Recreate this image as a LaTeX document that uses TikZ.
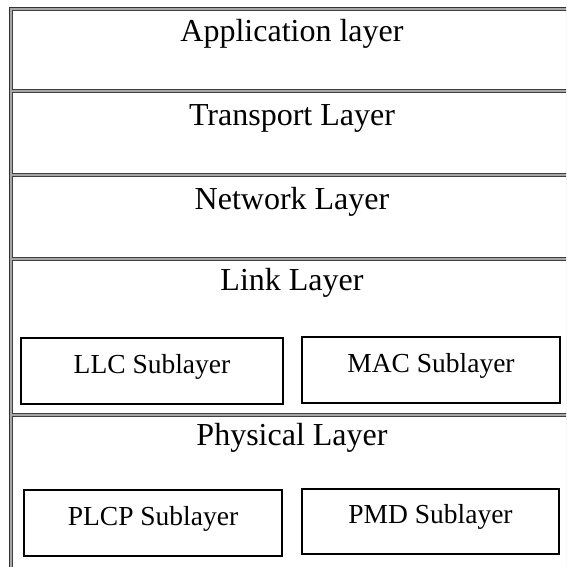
\documentclass[tikz,border=0pt]{standalone}
\usepackage{fontspec}
\setmainfont{Liberation Serif}
\begin{document}
\begin{tikzpicture}[x=1pt,y=-1pt,
  cell/.style={draw=black!75, line width=1pt, fill=white},
  title/.style={anchor=base, inner sep=0pt, font=\fontsize{32}{36}\selectfont},
  sublayer/.style={draw=black, line width=2pt, inner sep=0pt,
    text height=20pt, text depth=16pt, font=\fontsize{27.5}{32}\selectfont}]
\useasboundingbox (0,0) rectangle (566,567);
% ridged table frame and the five layer cells
\begin{scope}
  \clip (0,0) rectangle (566,567);
  \fill[black!35] (9,7) rectangle (600,600);
  \draw[black!80, line width=1pt] (9.5,600) |- (600,7.5);
  \foreach \t/\b in {11/90, 93/173, 176/257, 260/413, 416/600}
    \draw[cell] (12.5,\t) rectangle (600,\b);
\end{scope}
% layer titles
\node[title] (app)  at (292,42)  {Application layer};
\node[title] (trans) at (292,125) {Transport Layer};
\node[title] (net)  at (292,209) {Network Layer};
\node[title] (link) at (292,290) {Link Layer};
\node[title] (phys) at (292,445) {Physical Layer};
% sublayers
\node[sublayer, minimum width=262pt, minimum height=66pt] (llc)  at (152,371)   {LLC Sublayer};
\node[sublayer, minimum width=258pt, minimum height=66pt] (mac)  at (431,370)   {MAC Sublayer};
\node[sublayer, minimum width=258pt, minimum height=66pt] (plcp) at (153,523)   {PLCP Sublayer};
\node[sublayer, minimum width=257pt, minimum height=65pt] (pmd)  at (430.5,521.5) {PMD Sublayer};
\end{tikzpicture}
\end{document}
